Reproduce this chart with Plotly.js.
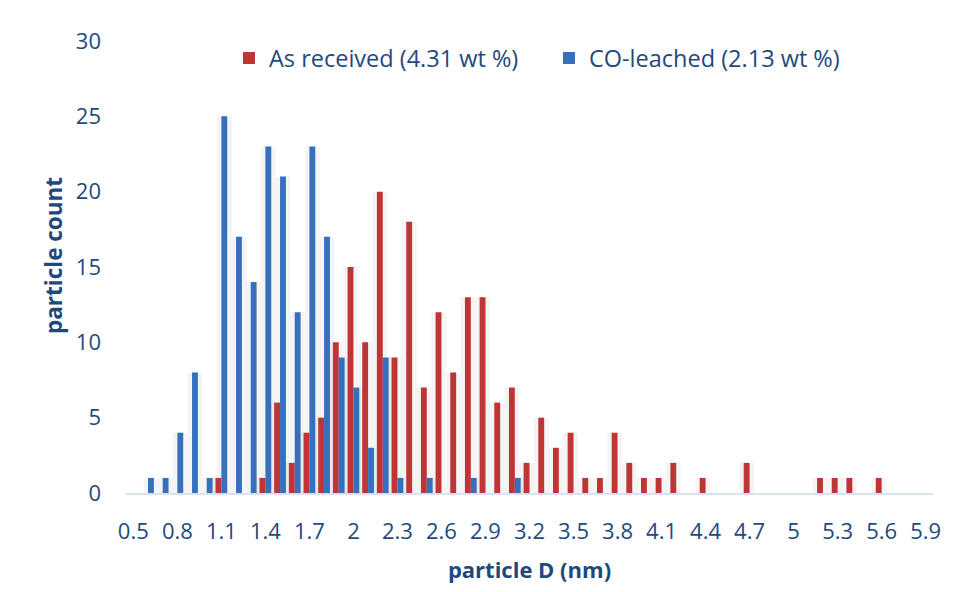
<!DOCTYPE html>
<html>
<head>
<meta charset="utf-8">
<script src="https://cdn.plot.ly/plotly-3.0.1.min.js"></script>
<style>
  html, body { margin: 0; padding: 0; background: #ffffff; }
  #chart { width: 956px; height: 592px; }
  #edge { position: absolute; left: 7px; top: 0; width: 2px; height: 592px; background: #dae5f3; }
</style>
</head>
<body>
<div id="edge"></div>
<div id="chart"></div>
<script>
// Particle diameter bins (nm), one category every 0.1 nm
const diameters = ["0.5","0.6","0.7","0.8","0.9","1","1.1","1.2","1.3","1.4",
                   "1.5","1.6","1.7","1.8","1.9","2","2.1","2.2","2.3","2.4",
                   "2.5","2.6","2.7","2.8","2.9","3","3.1","3.2","3.3","3.4",
                   "3.5","3.6","3.7","3.8","3.9","4","4.1","4.2","4.3","4.4",
                   "4.5","4.6","4.7","4.8","4.9","5","5.1","5.2","5.3","5.4",
                   "5.5","5.6","5.7","5.8","5.9"];

// Particle counts per bin
const asReceived = [0,0,0,0,0,0,1,0,0,1,
                    6,2,4,5,10,15,10,20,9,18,
                    7,12,8,13,13,6,7,2,5,3,
                    4,1,1,4,2,1,1,2,0,1,
                    0,0,2,0,0,0,0,1,1,1,
                    0,1,0,0,0];
const coLeached  = [0,1,1,4,8,1,25,17,14,23,
                    21,12,23,17,9,7,3,9,1,0,
                    1,0,0,1,0,0,1,0,0,0,
                    0,0,0,0,0,0,0,0,0,0,
                    0,0,0,0,0,0,0,0,0,0,
                    0,0,0,0,0];

// Labelled ticks on the diameter axis
const tickLabels = ["0.5","0.8","1.1","1.4","1.7","2","2.3","2.6","2.9","3.2",
                    "3.5","3.8","4.1","4.4","4.7","5","5.3","5.6","5.9"];

const seriesNames = ["As received (4.31 wt %)", "CO-leached (2.13 wt %)"];

const TEXT = "#1F497D";
const FONT = "Open Sans, sans-serif";
const BAR_W = 0.4;

// soft drop shadow behind each bar
function shadow(values, offset) {
  return {
    type: "bar", x: diameters, y: values,
    offset: offset - 0.3, width: BAR_W + 0.6,
    marker: { color: "rgba(0,0,0,0.045)", line: { width: 0 } },
    showlegend: false, hoverinfo: "skip"
  };
}

const traces = [
  shadow(asReceived, -BAR_W),
  shadow(coLeached, 0),
  {
    type: "bar", name: seriesNames[0], x: diameters, y: asReceived,
    offset: -BAR_W, width: BAR_W,
    marker: { color: "#bf3434", line: { width: 0 } }
  },
  {
    type: "bar", name: seriesNames[1], x: diameters, y: coLeached,
    offset: 0, width: BAR_W,
    marker: { color: "#3670bd", line: { width: 0 } }
  }
];

const layout = {
  width: 956, height: 592,
  margin: { l: 126, r: 23, t: 41, b: 99, pad: 0 },
  paper_bgcolor: "#ffffff", plot_bgcolor: "#ffffff",
  barmode: "overlay",
  font: { family: FONT, color: TEXT },
  showlegend: true,
  legend: {
    orientation: "h", x: 0.1276, xanchor: "left", y: 0.962, yanchor: "middle",
    entrywidth: 275, entrywidthmode: "pixels",
    font: { family: FONT, size: 23.5, color: TEXT },
    bgcolor: "rgba(0,0,0,0)", traceorder: "normal"
  },
  xaxis: {
    type: "category", categoryorder: "array", categoryarray: diameters,
    range: [-0.5, diameters.length - 0.5],
    tickmode: "array", tickvals: tickLabels, ticktext: tickLabels,
    ticks: "", showgrid: false, zeroline: false,
    showline: true, linecolor: "#d7e3f2", linewidth: 2,
    ticklabelstandoff: 18,
    tickfont: { family: FONT, size: 22, color: TEXT },
    title: { text: "particle D (nm)", standoff: 18,
             font: { family: FONT, size: 22, color: TEXT, weight: 700 } }
  },
  yaxis: {
    range: [0, 30], dtick: 5, tick0: 0,
    ticks: "", showgrid: false, zeroline: false, showline: false,
    ticklabelstandoff: 24,
    tickfont: { family: FONT, size: 22, color: TEXT }
  },
  annotations: [{
    text: "particle count", textangle: -90, showarrow: false,
    xref: "paper", yref: "paper", x: -0.0905, y: 0.5265,
    xanchor: "center", yanchor: "middle",
    font: { family: FONT, size: 22.5, color: TEXT, weight: 700 }
  }]
};

Plotly.newPlot("chart", traces, layout, { displayModeBar: false, staticPlot: true });
</script>
</body>
</html>
